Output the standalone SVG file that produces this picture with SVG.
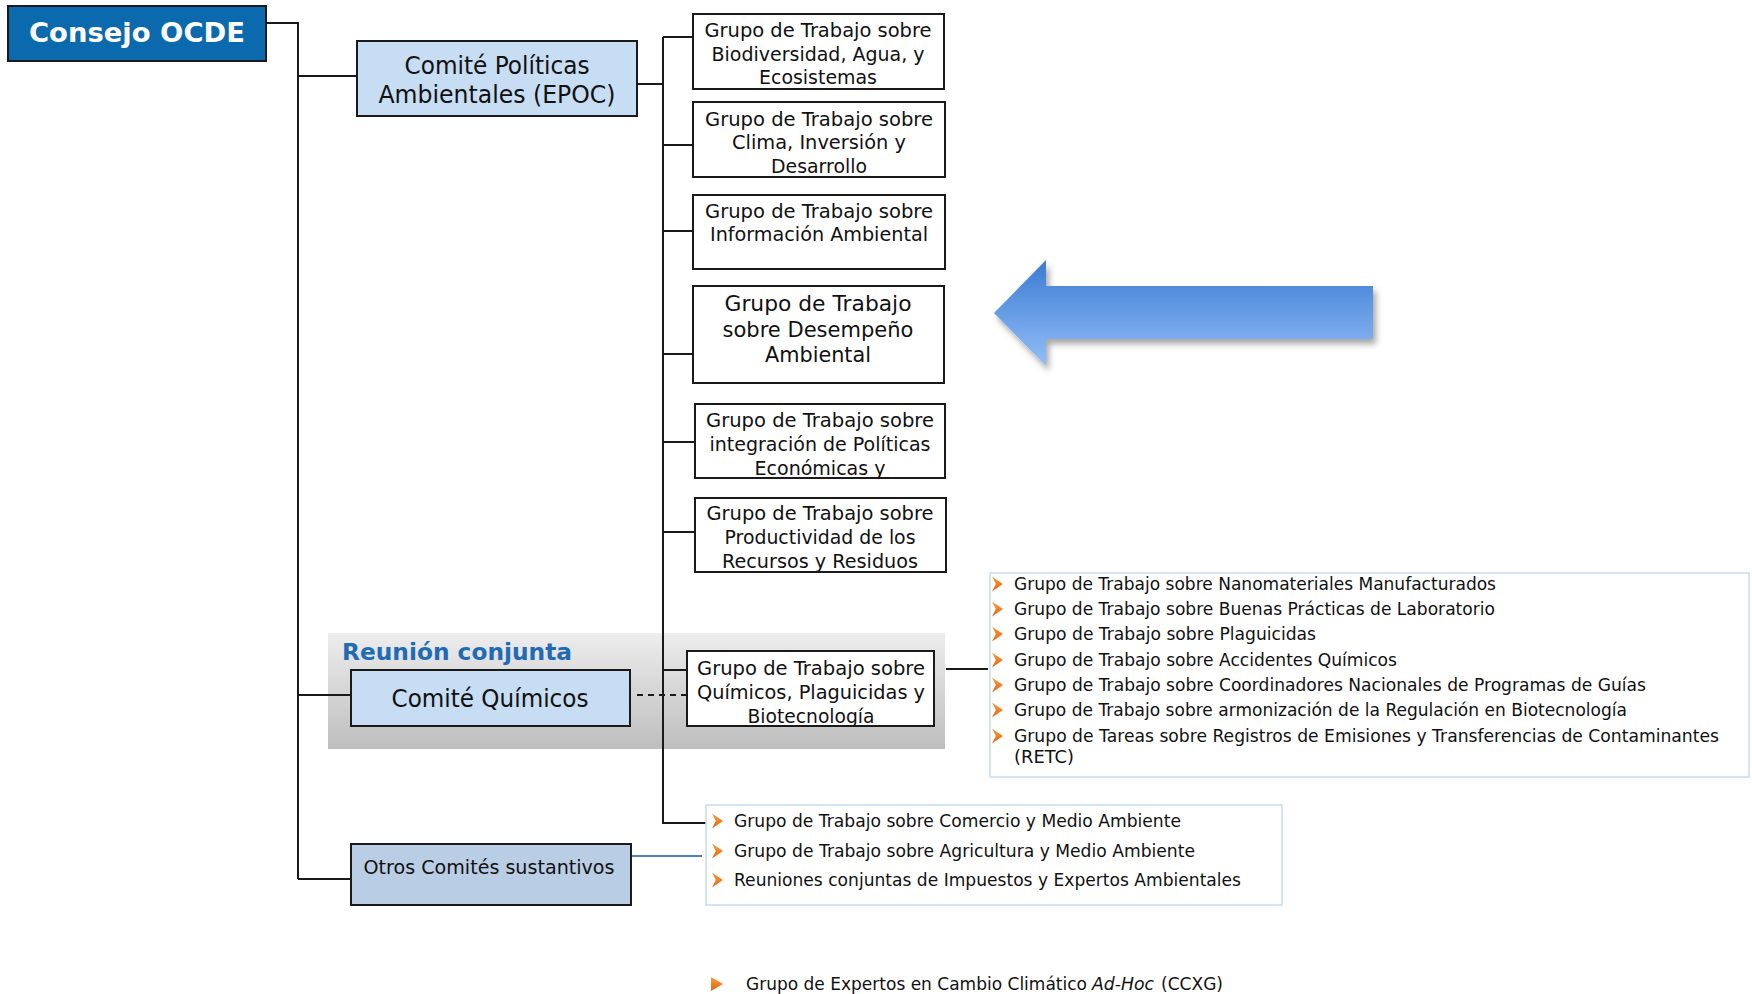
<svg xmlns="http://www.w3.org/2000/svg" width="1752" height="994" viewBox="0 0 1752 994">
<style>
.box{fill:#fff;stroke:#1a1a1a;stroke-width:2}
.lb{fill:#C6DDF3;stroke:#1a1a1a;stroke-width:2}
.t{font-family:"DejaVu Sans",Verdana,sans-serif;fill:#111;text-anchor:middle}
.b{font-family:"DejaVu Sans",Verdana,sans-serif;fill:#111;font-size:17.5px}
.c{fill:none;stroke:#1a1a1a;stroke-width:2}
.list{fill:#fff;stroke:#C5DBF2;stroke-width:1.5}
</style>
<defs>
<linearGradient id="og" x1="0" y1="0" x2="0" y2="1"><stop offset="0" stop-color="#F7A040"/><stop offset="1" stop-color="#E8620A"/></linearGradient>
<path id="chev" d="M0,-7.5 L11,0 L0,7.5 L3.8,0 Z" fill="url(#og)"/>
<linearGradient id="ag" x1="0" y1="0" x2="0" y2="1"><stop offset="0" stop-color="#3A7BD0"/><stop offset="1" stop-color="#93BEF8"/></linearGradient>
<linearGradient id="gg" x1="0" y1="0" x2="0" y2="1"><stop offset="0" stop-color="#EDEDED"/><stop offset="1" stop-color="#BEBEBE"/></linearGradient>
<filter id="sh" x="-10%" y="-30%" width="125%" height="170%"><feDropShadow dx="3" dy="5" stdDeviation="3" flood-color="#000" flood-opacity="0.35"/></filter>
<clipPath id="c5"><rect x="695" y="404" width="250" height="74"/></clipPath>
<clipPath id="c6"><rect x="695" y="498" width="251" height="74"/></clipPath>
<clipPath id="cq"><rect x="687" y="651" width="247" height="75"/></clipPath>
</defs>

<g id="reunion-band">
<rect x="328" y="633" width="617" height="116" fill="url(#gg)"/>
<text x="342" y="660" font-family="DejaVu Sans,Verdana,sans-serif" font-weight="bold" font-size="23" fill="#1F6BB5" textLength="230" lengthAdjust="spacingAndGlyphs">Reunión conjunta</text>
</g>

<g id="connectors">
<polyline class="c" points="266,23 298,23 298,879"/>
<line class="c" x1="298" y1="76" x2="357" y2="76"/>
<line class="c" x1="298" y1="695" x2="351" y2="695"/>
<line class="c" x1="298" y1="879" x2="351" y2="879"/>
<line class="c" x1="637" y1="84" x2="664" y2="84"/>
<line class="c" x1="663" y1="37" x2="663" y2="824"/>
<line class="c" x1="663" y1="37" x2="693" y2="37"/>
<line class="c" x1="663" y1="145" x2="693" y2="145"/>
<line class="c" x1="663" y1="231" x2="693" y2="231"/>
<line class="c" x1="663" y1="354" x2="693" y2="354"/>
<line class="c" x1="663" y1="442" x2="695" y2="442"/>
<line class="c" x1="663" y1="532" x2="695" y2="532"/>
<line class="c" x1="663" y1="670" x2="687" y2="670"/>
<line class="c" x1="663" y1="823" x2="706" y2="823"/>
<line class="c" x1="946" y1="669" x2="988" y2="669"/>
<line x1="637" y1="695" x2="695" y2="695" stroke="#1a1a1a" stroke-width="1.8" stroke-dasharray="6,5"/>
<line x1="631" y1="856" x2="702" y2="856" stroke="#4F81BD" stroke-width="2"/>
</g>

<g id="consejo">
<rect x="8" y="6" width="258" height="55" fill="#0B69AE" stroke="#1a1a1a" stroke-width="2"/>
<text x="137" y="42" font-family="DejaVu Sans,Verdana,sans-serif" font-weight="bold" font-size="27" fill="#fff" text-anchor="middle" textLength="216" lengthAdjust="spacingAndGlyphs">Consejo OCDE</text>
</g>

<g id="epoc">
<rect class="lb" x="357" y="41" width="280" height="75"/>
<text class="t" font-size="24" x="497" y="74" textLength="185" lengthAdjust="spacingAndGlyphs">Comité Políticas</text>
<text class="t" font-size="24" x="497" y="103" textLength="237" lengthAdjust="spacingAndGlyphs">Ambientales (EPOC)</text>
</g>

<g id="wg-biodiversidad">
<rect class="box" x="693" y="14" width="251" height="75"/>
<text class="t" font-size="20" x="818" y="37" textLength="227" lengthAdjust="spacingAndGlyphs">Grupo de Trabajo sobre</text>
<text class="t" font-size="20" x="818" y="61" textLength="213" lengthAdjust="spacingAndGlyphs">Biodiversidad, Agua, y</text>
<text class="t" font-size="20" x="818" y="84" textLength="118" lengthAdjust="spacingAndGlyphs">Ecosistemas</text>
</g>

<g id="wg-clima">
<rect class="box" x="693" y="102" width="252" height="75"/>
<text class="t" font-size="20" x="819" y="126" textLength="228" lengthAdjust="spacingAndGlyphs">Grupo de Trabajo sobre</text>
<text class="t" font-size="20" x="819" y="149" textLength="174" lengthAdjust="spacingAndGlyphs">Clima, Inversión y</text>
<text class="t" font-size="20" x="819" y="173" textLength="96" lengthAdjust="spacingAndGlyphs">Desarrollo</text>
</g>

<g id="wg-informacion">
<rect class="box" x="693" y="195" width="252" height="74"/>
<text class="t" font-size="20" x="819" y="218" textLength="228" lengthAdjust="spacingAndGlyphs">Grupo de Trabajo sobre</text>
<text class="t" font-size="20" x="819" y="241" textLength="218" lengthAdjust="spacingAndGlyphs">Información Ambiental</text>
</g>

<g id="wg-desempeno">
<rect class="box" x="693" y="286" width="251" height="97"/>
<text class="t" font-size="22" x="818" y="311" textLength="187" lengthAdjust="spacingAndGlyphs">Grupo de Trabajo</text>
<text class="t" font-size="22" x="818" y="337" textLength="191" lengthAdjust="spacingAndGlyphs">sobre Desempeño</text>
<text class="t" font-size="22" x="818" y="362" textLength="106" lengthAdjust="spacingAndGlyphs">Ambiental</text>
</g>

<g id="wg-integracion">
<rect class="box" x="695" y="404" width="250" height="74"/>
<g clip-path="url(#c5)">
<text class="t" font-size="20" x="820" y="427" textLength="228" lengthAdjust="spacingAndGlyphs">Grupo de Trabajo sobre</text>
<text class="t" font-size="20" x="820" y="451" textLength="221" lengthAdjust="spacingAndGlyphs">integración de Políticas</text>
<text class="t" font-size="20" x="820" y="475" textLength="131" lengthAdjust="spacingAndGlyphs">Económicas y</text>
</g>
<rect x="695" y="404" width="250" height="74" fill="none" stroke="#1a1a1a" stroke-width="2"/>
</g>

<g id="wg-productividad">
<rect class="box" x="695" y="498" width="251" height="74"/>
<g clip-path="url(#c6)">
<text class="t" font-size="20" x="820" y="520" textLength="227" lengthAdjust="spacingAndGlyphs">Grupo de Trabajo sobre</text>
<text class="t" font-size="20" x="820" y="544" textLength="191" lengthAdjust="spacingAndGlyphs">Productividad de los</text>
<text class="t" font-size="20" x="820" y="568" textLength="196" lengthAdjust="spacingAndGlyphs">Recursos y Residuos</text>
</g>
<rect x="695" y="498" width="251" height="74" fill="none" stroke="#1a1a1a" stroke-width="2"/>
</g>

<g id="comite-quimicos">
<rect class="lb" x="351" y="670" width="279" height="56"/>
<text class="t" font-size="24" x="490" y="707" textLength="197" lengthAdjust="spacingAndGlyphs">Comité Químicos</text>
</g>

<g id="wg-quimicos">
<rect class="box" x="687" y="651" width="247" height="75"/>
<g clip-path="url(#cq)">
<text class="t" font-size="20" x="811" y="675" textLength="228" lengthAdjust="spacingAndGlyphs">Grupo de Trabajo sobre</text>
<text class="t" font-size="20" x="811" y="699" textLength="228" lengthAdjust="spacingAndGlyphs">Químicos, Plaguicidas y</text>
<text class="t" font-size="20" x="811" y="723" textLength="127" lengthAdjust="spacingAndGlyphs">Biotecnología</text>
</g>
<rect x="687" y="651" width="247" height="75" fill="none" stroke="#1a1a1a" stroke-width="2"/>
</g>

<g id="otros">
<rect x="351" y="844" width="280" height="61" fill="#B9CDE5" stroke="#1a1a1a" stroke-width="2"/>
<text class="t" font-size="20" x="489" y="874" textLength="251" lengthAdjust="spacingAndGlyphs">Otros Comités sustantivos</text>
</g>

<g id="lista-quimicos">
<rect class="list" x="990" y="573" width="759" height="204"/>
<use href="#chev" x="992" y="584"/>
<use href="#chev" x="992" y="609"/>
<use href="#chev" x="992" y="634"/>
<use href="#chev" x="992" y="660"/>
<use href="#chev" x="992" y="685"/>
<use href="#chev" x="992" y="710"/>
<use href="#chev" x="992" y="736"/>
<text class="b" x="1014" y="590" textLength="482" lengthAdjust="spacingAndGlyphs">Grupo de Trabajo sobre Nanomateriales Manufacturados</text>
<text class="b" x="1014" y="615" textLength="481" lengthAdjust="spacingAndGlyphs">Grupo de Trabajo sobre Buenas Prácticas de Laboratorio</text>
<text class="b" x="1014" y="640" textLength="302" lengthAdjust="spacingAndGlyphs">Grupo de Trabajo sobre Plaguicidas</text>
<text class="b" x="1014" y="666" textLength="383" lengthAdjust="spacingAndGlyphs">Grupo de Trabajo sobre Accidentes Químicos</text>
<text class="b" x="1014" y="691" textLength="632" lengthAdjust="spacingAndGlyphs">Grupo de Trabajo sobre Coordinadores Nacionales de Programas de Guías</text>
<text class="b" x="1014" y="716" textLength="613" lengthAdjust="spacingAndGlyphs">Grupo de Trabajo sobre armonización de la Regulación en Biotecnología</text>
<text class="b" x="1014" y="742" textLength="705" lengthAdjust="spacingAndGlyphs">Grupo de Tareas sobre Registros de Emisiones y Transferencias de Contaminantes</text>
<text class="b" x="1014" y="763" textLength="60" lengthAdjust="spacingAndGlyphs">(RETC)</text>
</g>

<g id="lista-otros">
<rect class="list" x="706" y="805" width="576" height="100"/>
<use href="#chev" x="712" y="821"/>
<use href="#chev" x="712" y="851"/>
<use href="#chev" x="712" y="880"/>
<text class="b" x="734" y="827" textLength="447" lengthAdjust="spacingAndGlyphs">Grupo de Trabajo sobre Comercio y Medio Ambiente</text>
<text class="b" x="734" y="857" textLength="461" lengthAdjust="spacingAndGlyphs">Grupo de Trabajo sobre Agricultura y Medio Ambiente</text>
<text class="b" x="734" y="886" textLength="507" lengthAdjust="spacingAndGlyphs">Reuniones conjuntas de Impuestos y Expertos Ambientales</text>
</g>

<g id="ccxg">
<polygon points="711,977 723,984 711,991" fill="url(#og)"/>
<text class="b" x="746" y="990" textLength="341" lengthAdjust="spacingAndGlyphs">Grupo de Expertos en Cambio Climático</text>
<text class="b" x="1092" y="990" font-style="italic" textLength="62" lengthAdjust="spacingAndGlyphs">Ad-Hoc</text>
<text class="b" x="1161" y="990" textLength="62" lengthAdjust="spacingAndGlyphs">(CCXG)</text>
</g>

<g id="big-arrow">
<polygon points="994,313 1046,260 1046,286 1373,286 1373,339 1046,339 1046,366" fill="url(#ag)" filter="url(#sh)"/>
</g>
</svg>
